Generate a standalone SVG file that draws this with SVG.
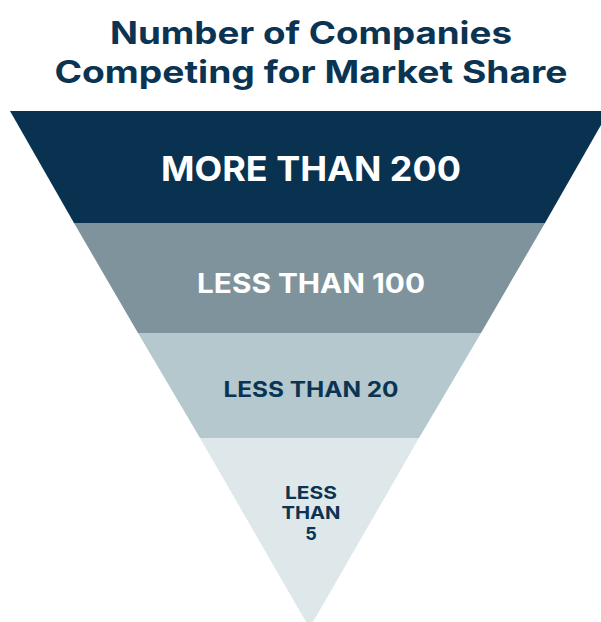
<svg xmlns="http://www.w3.org/2000/svg" width="601" height="622" viewBox="0 0 601 622">
<style>
.t{font-family:Inter,"Noto Sans","Liberation Sans",sans-serif;font-weight:700;text-anchor:middle}
.title{fill:#0b3352;font-size:31px}
.w{fill:#ffffff}
.d{fill:#0b3352}
</style>
<rect width="601" height="622" fill="#ffffff"/>
<g id="title">
<text class="t title" x="311" y="44" textLength="402" lengthAdjust="spacingAndGlyphs">Number of Companies</text>
<text class="t title" x="311" y="83" textLength="513" lengthAdjust="spacingAndGlyphs">Competing for Market Share</text>
</g>
<g id="band1">
<polygon points="10,111 609,111 545,223 74,223" fill="#08324f"/>
<text class="t w" x="311" y="181" font-size="34" textLength="300" lengthAdjust="spacingAndGlyphs">MORE THAN 200</text>
</g>
<g id="band2">
<polygon points="74,223 545,223 481,333 138,333" fill="#7e939c"/>
<text class="t w" x="311" y="293" font-size="27" textLength="228" lengthAdjust="spacingAndGlyphs">LESS THAN 100</text>
</g>
<g id="band3">
<polygon points="138,333 481,333 419,438 200,438" fill="#b4c8ce"/>
<text class="t d" x="311" y="397" font-size="21" textLength="175" lengthAdjust="spacingAndGlyphs">LESS THAN 20</text>
</g>
<g id="band4">
<polygon points="200,438 419,438 309.5,628" fill="#dee7e9"/>
<text class="t d" x="311" y="499" font-size="18" textLength="52" lengthAdjust="spacingAndGlyphs">LESS</text>
<text class="t d" x="311" y="519" font-size="18" textLength="59" lengthAdjust="spacingAndGlyphs">THAN</text>
<text class="t d" x="311" y="540" font-size="18">5</text>
</g>
<g id="connectors"/>
</svg>
